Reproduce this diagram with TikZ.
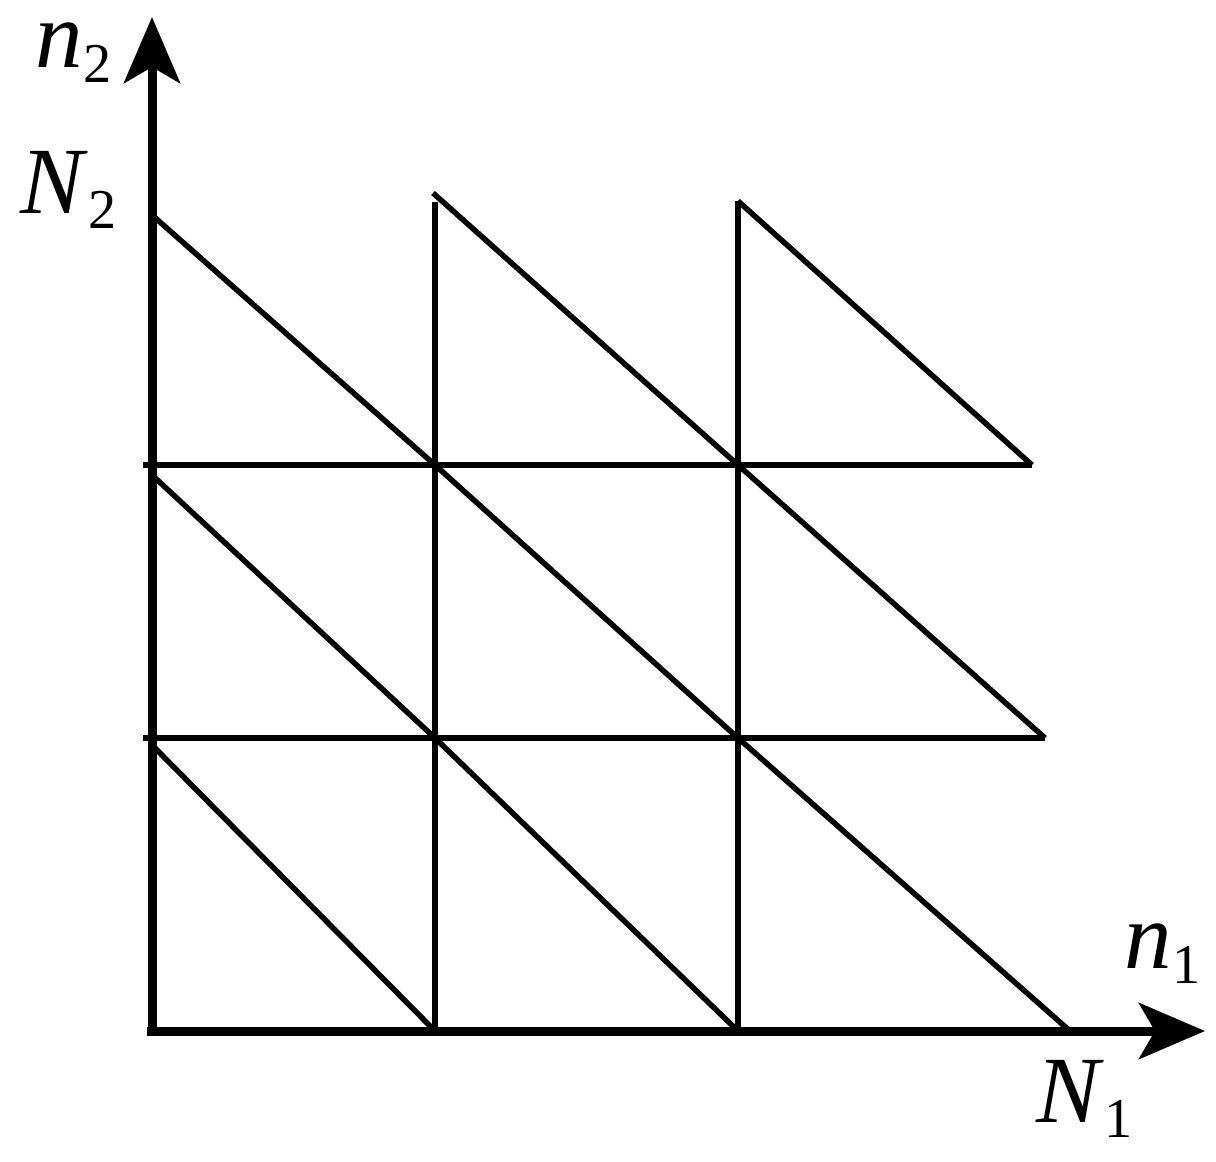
\documentclass[tikz,border=0pt]{standalone}
\usepackage{fontspec}
\setmainfont{Liberation Serif}
\usetikzlibrary{arrows.meta, positioning, calc}

\newcommand{\axlab}[2]{\textit{#1}\raisebox{-4.5pt}{\fontsize{16}{16}\selectfont #2}}

\tikzset{
    axis/.style={line width=0.9mm, -{Stealth[length=6.6mm, width=5.6mm, inset=1.6mm]}},
    mesh/.style={line width=0.55mm},
    lab/.style={anchor=base west, inner sep=0pt, font=\fontsize{27}{30}\selectfont}
}

\begin{document}
\begin{tikzpicture}[x=0.1mm, y=-0.1mm]
        \useasboundingbox (0,0) rectangle (1216,1161);
        % grid points
        \foreach \i/\x in {0/152,1/435,2/738} {
            \foreach \j/\y in {0/1031,1/738,2/465} {
                \coordinate (p\i\j) at (\x,\y);
            }
        }
        \coordinate (t0) at (152,215);
        \coordinate (t1) at (433,193);
        \coordinate (t2) at (738,201);
        \coordinate (v1) at (435,202);
        \coordinate (m0) at (152,475);
        \coordinate (b0) at (152,745);
        \coordinate (e0) at (1070,1031);
        \coordinate (e1) at (1045,738);
        \coordinate (e2) at (1032,465);
        \coordinate (h1) at (143,738);
        \coordinate (h2) at (143,465);
        \coordinate (xend) at (1205,1031);
        \coordinate (yend) at (152,17);
        \coordinate (xstart) at (147,1031);

        % mesh
        \draw[mesh] (h2) -- (e2);
        \draw[mesh] (h1) -- (e1);
        \draw[mesh] (p10) -- (v1);
        \draw[mesh] (p20) -- (t2);
        \draw[mesh] (t0) -- (p12);
        \draw[mesh] (m0) -- (p11);
        \draw[mesh] (b0) -- (p10);
        \draw[mesh] (t1) -- (p22);
        \draw[mesh] (p12) -- (p21);
        \draw[mesh] (p11) -- (p20);
        \draw[mesh] (t2) -- (e2);
        \draw[mesh] (p22) -- (e1);
        \draw[mesh] (p21) -- (e0);

        % axes
        \draw[axis] (xstart) -- (xend);
        \draw[axis] (p00) -- (yend);

        \node[lab] (ny) at (35,67) {\axlab{n}{2}};
        \node[lab] (Ny) at (20,213) {\axlab{N}{2}};
        \node[lab] (nx) at (1124,968) {\axlab{n}{1}};
        \node[lab] (Nx) at (1036,1122) {\axlab{N}{1}};
    \end{tikzpicture}
\end{document}
